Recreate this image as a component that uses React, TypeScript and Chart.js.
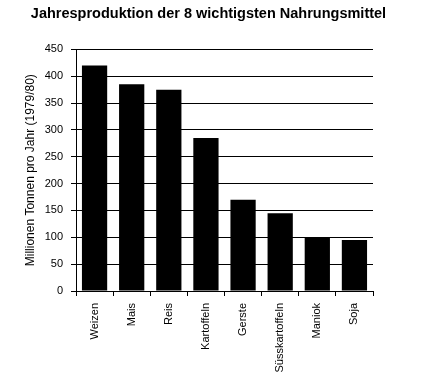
import React, { useEffect, useRef } from "react";
import { Chart, registerables } from "chart.js";

Chart.register(...registerables);

const categories = ["Weizen", "Mais", "Reis", "Kartoffeln", "Gerste", "Süsskartoffeln", "Maniok", "Soja"];
const production = [420, 385, 375, 285, 170, 145, 100, 95];
const chartTitle = "Jahresproduktion der 8 wichtigsten Nahrungsmittel";
const yAxisTitle = "Millionen Tonnen pro Jahr (1979/80)";
const yMin = 0;
const yMax = 450;
const yStep = 50;

const FONT = "'Liberation Sans', Arial, Helvetica, sans-serif";

export default function App() {
  const ref = useRef<HTMLCanvasElement | null>(null);

  useEffect(() => {
    if (!ref.current) return;
    const chart = new Chart(ref.current, {
      type: "bar",
      data: {
        labels: categories,
        datasets: [
          {
            data: production,
            backgroundColor: "#000",
            borderWidth: 0,
            categoryPercentage: 1,
            barPercentage: 0.68,
          },
        ],
      },
      options: {
        responsive: false,
        animation: false,
        layout: { padding: { left: 0, right: 8, top: 0, bottom: 0 } },
        plugins: {
          legend: { display: false },
          tooltip: { enabled: false },
          title: {
            display: true,
            text: chartTitle,
            color: "#000",
            font: { family: FONT, size: 14.5, weight: "bold" },
            padding: { top: 5, bottom: 27 },
          },
        },
        scales: {
          x: {
            offset: true,
            grid: {
              display: true,
              drawOnChartArea: false,
              drawTicks: true,
              tickLength: 5,
              color: "#000",
              lineWidth: 1,
              offset: true,
            },
            border: { display: true, color: "#000", width: 1 },
            ticks: {
              color: "#000",
              font: { family: FONT, size: 11 },
              minRotation: 90,
              maxRotation: 90,
              autoSkip: false,
              padding: 7,
            },
            afterFit: (s: any) => {
              s.height = 86;
            },
          },
          y: {
            min: yMin,
            max: yMax,
            grid: {
              color: "#000",
              lineWidth: 1,
              tickLength: 5,
            },
            border: { display: true, color: "#000", width: 1 },
            ticks: {
              stepSize: yStep,
              color: "#000",
              font: { family: FONT, size: 11 },
              padding: 8,
            },
            title: {
              display: true,
              text: yAxisTitle,
              color: "#000",
              font: { family: FONT, size: 12 },
              padding: { top: 23, bottom: 0 },
            },
            afterFit: (s: any) => {
              s.width = 76;
            },
          },
          yRight: {
            position: "right",
            display: true,
            min: yMin,
            max: yMax,
            grid: { display: false, drawTicks: false },
            border: { display: false },
            ticks: { display: false },
            afterFit: (s: any) => {
              s.width = 44;
            },
          },
        },
      },
    });
    return () => chart.destroy();
  }, []);

  return (
    <div style={{ position: "absolute", left: 0, top: 0, width: 425, height: 377, background: "#fff" }}>
      <canvas ref={ref} width={425} height={377} />
    </div>
  );
}
